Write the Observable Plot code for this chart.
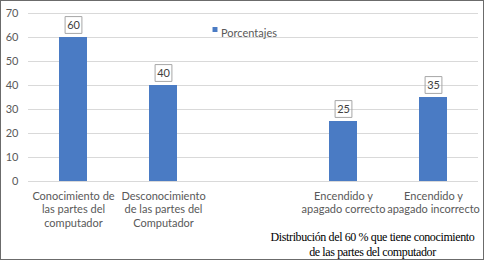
<!DOCTYPE html>
<html>
<head>
<meta charset="utf-8">
<script src="https://cdn.jsdelivr.net/npm/d3@7"></script>
<script src="https://cdn.jsdelivr.net/npm/@observablehq/plot@0.6"></script>
<style>
  html, body { margin: 0; padding: 0; background: #fff; }
  #wrap { position: relative; width: 484px; height: 260px; }
  #border { position: absolute; left: 0; top: 0; width: 484px; height: 260px; box-sizing: border-box; border: 1.5px solid #6b6b6b; pointer-events: none; }
</style>
</head>
<body>
<div id="wrap"><div id="border"></div></div>
<script>
const categories = [
  "Conocimiento de\nlas partes del\ncomputador",
  "Desconocimiento\nde las partes del\nComputador",
  "",
  "Encendido y\napagado correcto",
  "Encendido y\napagado incorrecto"
];
const values = [60, 40, null, 25, 35];
const yTicks = [0, 10, 20, 30, 40, 50, 60, 70];
const seriesName = "Porcentajes";
const caption = "Distribución del 60 % que tiene conocimiento\nde las partes del computador";

const data = categories.map((c, i) => ({cat: c, value: values[i]})).filter(d => d.value != null);

const font = "Lato, sans-serif";
const blue = "#4a7bc4";
const textColor = "#595959";

const chart = Plot.plot({
  width: 484,
  height: 260,
  marginLeft: 28,
  marginRight: 6,
  marginTop: 13,
  marginBottom: 79,
  style: {fontFamily: font, fontSize: "11px", color: textColor, background: "transparent"},
  x: {domain: categories, paddingInner: 0.69, paddingOuter: 0.345, axis: null},
  y: {domain: [0, 70], ticks: yTicks, axis: null},
  marks: [
    Plot.gridY(yTicks, {stroke: "#d9d9d9", strokeOpacity: 1, strokeWidth: 1}),
    Plot.axisY(yTicks, {tickSize: 0, tickPadding: 10, fontSize: 11, fill: textColor, fontFamily: font, label: null}),
    Plot.barY(data, {x: "cat", y: "value", fill: blue}),
    Plot.text(data, {x: "cat", y: "value", text: d => String(d.value), dy: -12.5,
      fill: "#404040", fontSize: 11, fontFamily: font}),
    // value label boxes
    Plot.dot(data, {x: "cat", y: "value", dy: -12.5, symbol: "square", r: 9.5,
      fill: "none", stroke: "#a6a6a6", strokeWidth: 1}),
    Plot.text(categories.filter(c => c !== ""), {x: d => d, y: 0, text: d => d, dy: 9,
      lineAnchor: "top", lineHeight: 1.22, fontSize: 11, fill: textColor, fontFamily: font}),
    // legend
    Plot.dot([seriesName], {frameAnchor: "top-left", dx: 186.5, dy: 16, symbol: "square", r: 2.8, fill: blue}),
    Plot.text([seriesName], {frameAnchor: "top-left", text: d => d, dx: 192.5, dy: 16,
      textAnchor: "start", fontSize: 11, fill: textColor, fontFamily: font}),
    // caption
    Plot.text([caption], {frameAnchor: "bottom", text: d => d, dx: 119, dy: 50,
      lineAnchor: "top", lineHeight: 1.17, fontSize: 12, fill: "#000", fontWeight: "normal",
      fontFamily: "'Liberation Serif', serif"})
  ]
});
d3.select(chart).selectAll("text")
  .filter(function() { return this.textContent.startsWith("Distribución"); })
  .style("letter-spacing", "-0.38px");
document.getElementById("wrap").prepend(chart);
</script>
</body>
</html>
